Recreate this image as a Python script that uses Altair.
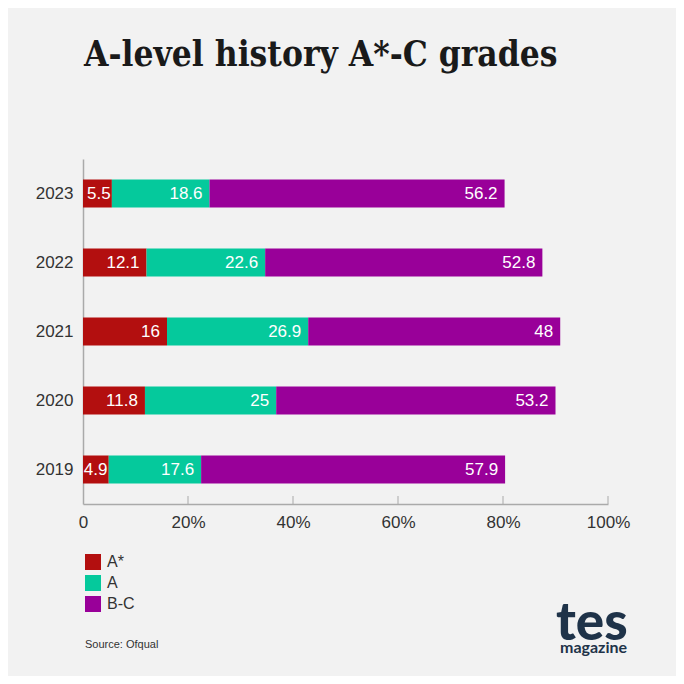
import altair as alt
import pandas as pd

years = ["2023", "2022", "2021", "2020", "2019"]
grades = ["A*", "A", "B-C"]
a_star = [5.5, 12.1, 16, 11.8, 4.9]
a_grade = [18.6, 22.6, 26.9, 25, 17.6]
b_c = [56.2, 52.8, 48, 53.2, 57.9]
colors = ["#b30f0f", "#05c99c", "#990099"]
tick_values = [0, 20, 40, 60, 80, 100]

rows = []
for i, y in enumerate(years):
    for j, (g, vals) in enumerate(zip(grades, [a_star, a_grade, b_c])):
        rows.append({"year": y, "grade": g, "value": vals[i], "order": j})
df = pd.DataFrame(rows)

W, H = 525, 345
FONT = "Liberation Sans"

base = alt.Chart(df).transform_stack(
    stack="value", groupby=["year"], as_=["v0", "v1"], sort=[{"field": "order"}]
).transform_calculate(
    lx="datum.value < 7 ? datum.v1 + 1.1 : datum.v1"
)

xscale = alt.Scale(domain=[0, 100], nice=False, zero=True)
yenc = alt.Y("year:N", sort=years, title=None,
             axis=alt.Axis(ticks=False, labelPadding=10, labelFontSize=17,
                           labelColor="#333333", labelFont=FONT,
                           domainColor="#aaaaaa", domainWidth=1.5))

bars = base.mark_bar(size=28).encode(
    x=alt.X("v0:Q", scale=xscale, title=None,
            axis=alt.Axis(values=tick_values, ticks=False, grid=False, labelFlush=False,
                          labelExpr="datum.value == 0 ? '0' : datum.value + '%'",
                          labelFontSize=17, labelColor="#333333", labelFont=FONT,
                          labelPadding=10, domainColor="#aaaaaa", domainWidth=1.5)),
    x2="v1:Q",
    y=yenc,
    color=alt.Color("grade:N", scale=alt.Scale(domain=grades, range=colors),
                    legend=alt.Legend(title=None, orient="none", legendX=2, legendY=395,
                                      symbolType="square", symbolSize=256,
                                      symbolStrokeWidth=0, labelFontSize=16,
                                      labelFont=FONT, labelColor="#333333",
                                      rowPadding=5, padding=0, labelOffset=6)),
    order=alt.Order("order:Q"),
)

labels = base.mark_text(align="right", baseline="middle", dx=-7, fontSize=17,
                        font=FONT, color="white").encode(
    x=alt.X("lx:Q", scale=xscale),
    y=alt.Y("year:N", sort=years),
    text=alt.Text("value:Q"),
)

ticks_df = pd.DataFrame({"t": tick_values[1:]})
ticks = alt.Chart(ticks_df).mark_rule(color="#aaaaaa", strokeWidth=1).encode(
    x=alt.X("t:Q", scale=xscale),
    y=alt.value(H),
    y2=alt.value(H - 8),
)

title = alt.Chart(pd.DataFrame({"t": ["A-level history A*-C grades"]})).mark_text(
    align="left", baseline="alphabetic", font="DejaVu Serif Condensed", fontWeight="bold",
    fontSize=35, color="#1a1a1a").encode(
    x=alt.value(1), y=alt.value(-93), text="t:N")

source = alt.Chart(pd.DataFrame({"t": ["Source: Ofqual"]})).mark_text(
    align="left", baseline="alphabetic", font=FONT, fontSize=11, color="#333333").encode(
    x=alt.value(2), y=alt.value(489), text="t:N")

logo1 = alt.Chart(pd.DataFrame({"t": ["tes"]})).mark_text(
    align="left", baseline="alphabetic", font="Lato", fontWeight=900,
    fontSize=53, color="#1f3349").encode(x=alt.value(473), y=alt.value(481), text="t:N")

logo2 = alt.Chart(pd.DataFrame({"t": ["magazine"]})).mark_text(
    align="left", baseline="alphabetic", font="Lato", fontWeight="bold",
    fontSize=16, color="#1f3349").encode(x=alt.value(477), y=alt.value(494), text="t:N")

chart = alt.layer(bars, labels, ticks, title, source, logo1, logo2).properties(
    width=W, height=H,
    autosize=alt.AutoSizeParams(type="none"),
    padding={"left": 75, "top": 151, "right": 68, "bottom": 172},
    background="#f2f2f2",
).configure_view(stroke=None)

chart.save("out.html", embed_options={"renderer": "svg", "actions": False})
